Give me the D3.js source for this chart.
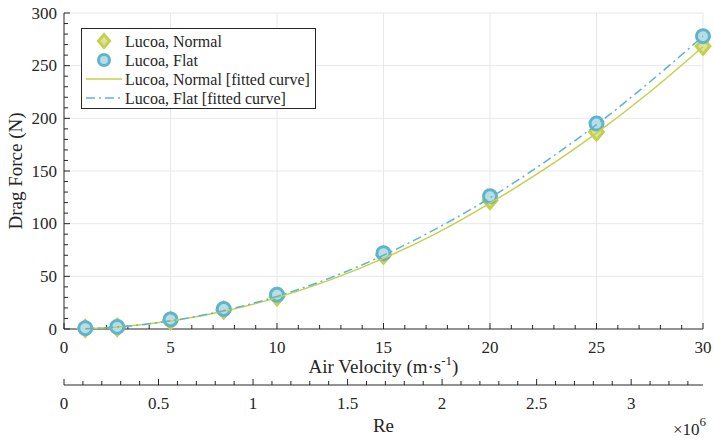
<!DOCTYPE html>
<html>
<head>
<meta charset="utf-8">
<script src="https://cdn.jsdelivr.net/npm/d3@7"></script>
<style>
  html, body { margin: 0; padding: 0; background: #fff; }
  #chart text { font-family: 'Liberation Serif', 'Times New Roman', Times, serif; }
</style>
</head>
<body>
<svg id="chart" width="714" height="440"></svg>
<script>
// Measured points (air velocity in m/s, drag force in N)
const velocity = [1, 2.5, 5, 7.5, 10, 15, 20, 25, 30];
const normalForce = [0.6, 1.6, 8, 18, 30.5, 70, 122, 187, 268.5];
const flatForce = [0.8, 2, 9, 19, 32.5, 72, 126, 195, 278];

// Fitted curves at these velocities
const fitVelocity = [1, 2.5, 5, 7.5, 10, 12.5, 15, 17.5, 20, 22.5, 25, 27.5, 30];
const normalFit = [0.3, 1.9, 7.5, 16.8, 29.8, 46.6, 67, 91, 119.5, 151, 186, 225, 268];
const flatFit = [0.3, 1.9, 7.7, 17.4, 31, 48.5, 70, 95.5, 124.5, 157.5, 194, 234.5, 278];

// Tick labels
const xTicks = [0, 5, 10, 15, 20, 25, 30];
const yTicks = [0, 50, 100, 150, 200, 250, 300];
const reTicks = [0, 0.5, 1, 1.5, 2, 2.5, 3];

const legendItems = [
  { label: 'Lucoa, Normal', kind: 'diamond' },
  { label: 'Lucoa, Flat', kind: 'circle' },
  { label: 'Lucoa, Normal [fitted curve]', kind: 'solid' },
  { label: 'Lucoa, Flat [fitted curve]', kind: 'dashdot' },
];

const GREEN = '#c5d04c', GREEN_FILL = '#dde49a';
const BLUE = '#5fb4cc', BLUE_FILL = '#b9dde7';
const AXIS = '#262626', GRID = '#e8e8e8';

const svg = d3.select('#chart');
const pL = 64, pR = 703, pT = 13, pB = 329;

const x = d3.scaleLinear().domain([0, 30]).range([pL, pR]);
const y = d3.scaleLinear().domain([0, 300]).range([pB, pT]);
const re = d3.scaleLinear().domain([0, 3.38]).range([pL, pR]);

// grid
svg.append('g').selectAll('line').data(xTicks.slice(1)).join('line')
  .attr('x1', d => x(d)).attr('x2', d => x(d))
  .attr('y1', pT).attr('y2', pB)
  .attr('stroke', GRID).attr('stroke-width', 1);
svg.append('g').selectAll('line').data(yTicks.slice(1)).join('line')
  .attr('x1', pL).attr('x2', pR)
  .attr('y1', d => y(d)).attr('y2', d => y(d))
  .attr('stroke', GRID).attr('stroke-width', 1);

// bottom axis (ticks pointing inward)
const xAxis = svg.append('g').attr('transform', `translate(0,${pB})`);
xAxis.append('line').attr('x1', pL).attr('x2', pR).attr('stroke', AXIS);
xAxis.selectAll('.minor').data(d3.range(0, 31, 1)).join('line')
  .attr('x1', d => x(d)).attr('x2', d => x(d))
  .attr('y1', 0).attr('y2', d => d % 5 === 0 ? -6 : -4)
  .attr('stroke', AXIS);
xAxis.selectAll('text').data(xTicks).join('text')
  .attr('x', d => x(d)).attr('y', 24)
  .attr('text-anchor', 'middle').attr('font-size', 17).attr('fill', AXIS)
  .text(d => d);

// left axis
const yAxis = svg.append('g').attr('transform', `translate(${pL},0)`);
yAxis.append('line').attr('y1', pT).attr('y2', pB).attr('stroke', AXIS);
yAxis.selectAll('.minor').data(d3.range(0, 301, 10)).join('line')
  .attr('y1', d => y(d)).attr('y2', d => y(d))
  .attr('x1', 0).attr('x2', d => d % 50 === 0 ? 6 : 4)
  .attr('stroke', AXIS);
yAxis.selectAll('text').data(yTicks).join('text')
  .attr('x', -7).attr('y', d => y(d)).attr('dy', '0.33em')
  .attr('text-anchor', 'end').attr('font-size', 17).attr('fill', AXIS)
  .text(d => d);

svg.append('text')
  .attr('transform', `translate(22,${(pT + pB) / 2}) rotate(-90)`)
  .attr('text-anchor', 'middle').attr('font-size', 19).attr('fill', AXIS)
  .text('Drag Force (N)');

const xl = svg.append('text')
  .attr('x', (pL + pR) / 2).attr('y', 373)
  .attr('text-anchor', 'middle').attr('font-size', 19).attr('fill', AXIS);
xl.append('tspan').text('Air Velocity (m\u00b7s');
xl.append('tspan').attr('dy', -8).attr('font-size', 13).text('-1');
xl.append('tspan').attr('dy', 8).text(')');

// Reynolds number axis
const reAxis = svg.append('g').attr('transform', 'translate(0,385)');
reAxis.append('line').attr('x1', pL).attr('x2', pR).attr('stroke', AXIS);
reAxis.selectAll('.minor').data(d3.range(0, 34).map(i => i / 10)).join('line')
  .attr('x1', d => re(d)).attr('x2', d => re(d))
  .attr('y1', 0).attr('y2', (d, i) => i % 5 === 0 ? -6 : -4)
  .attr('stroke', AXIS);
reAxis.selectAll('text').data(reTicks).join('text')
  .attr('x', d => re(d)).attr('y', 24)
  .attr('text-anchor', 'middle').attr('font-size', 17).attr('fill', AXIS)
  .text(d => d);
svg.append('text')
  .attr('x', (pL + pR) / 2).attr('y', 432)
  .attr('text-anchor', 'middle').attr('font-size', 19).attr('fill', AXIS)
  .text('Re');
const exp = svg.append('text')
  .attr('x', 706).attr('y', 435)
  .attr('text-anchor', 'end').attr('font-size', 17).attr('fill', AXIS);
exp.append('tspan').text('\u00d710');
exp.append('tspan').attr('dy', -9).attr('font-size', 13).text('6');

// markers
const diamond = (cx, cy, s) =>
  `M${cx},${cy - s}L${cx + s * 0.85},${cy}L${cx},${cy + s}L${cx - s * 0.85},${cy}Z`;

svg.append('g').selectAll('path').data(velocity).join('path')
  .attr('d', (d, i) => diamond(x(d), y(normalForce[i]), 8))
  .attr('fill', GREEN_FILL).attr('stroke', GREEN).attr('stroke-width', 3);
svg.append('g').selectAll('circle').data(velocity).join('circle')
  .attr('cx', d => x(d)).attr('cy', (d, i) => y(flatForce[i]))
  .attr('r', 6.5)
  .attr('fill', BLUE_FILL).attr('stroke', BLUE).attr('stroke-width', 3);

// fitted curves
const line = d3.line()
  .x(d => x(d[0])).y(d => y(d[1]))
  .curve(d3.curveMonotoneX);
svg.append('path').datum(fitVelocity.map((v, i) => [v, normalFit[i]]))
  .attr('d', line).attr('fill', 'none')
  .attr('stroke', GREEN).attr('stroke-width', 1.5);
svg.append('path').datum(fitVelocity.map((v, i) => [v, flatFit[i]]))
  .attr('d', line).attr('fill', 'none')
  .attr('stroke', BLUE).attr('stroke-width', 1.5)
  .attr('stroke-dasharray', '9,4,2,4');

// legend
const lg = svg.append('g');
lg.append('rect').attr('x', 81.5).attr('y', 28.5).attr('width', 234).attr('height', 80)
  .attr('fill', '#fff').attr('stroke', AXIS).attr('stroke-width', 1);
const rowY = d3.scalePoint().domain(d3.range(legendItems.length)).range([41, 98]);
legendItems.forEach((it, i) => {
  const cy = rowY(i);
  if (it.kind === 'diamond') {
    lg.append('path').attr('d', diamond(104, cy, 6.5))
      .attr('fill', GREEN_FILL).attr('stroke', GREEN).attr('stroke-width', 3);
  } else if (it.kind === 'circle') {
    lg.append('circle').attr('cx', 104).attr('cy', cy).attr('r', 5.5)
      .attr('fill', BLUE_FILL).attr('stroke', BLUE).attr('stroke-width', 3);
  } else {
    lg.append('line').attr('x1', 86).attr('x2', 122).attr('y1', cy).attr('y2', cy)
      .attr('stroke', it.kind === 'solid' ? GREEN : BLUE).attr('stroke-width', 1.5)
      .attr('stroke-dasharray', it.kind === 'dashdot' ? '9,4,2,4' : null);
  }
  lg.append('text').attr('x', 125).attr('y', cy).attr('dy', '0.35em')
    .attr('font-size', 16).attr('fill', AXIS).text(it.label);
});
</script>
</body>
</html>
